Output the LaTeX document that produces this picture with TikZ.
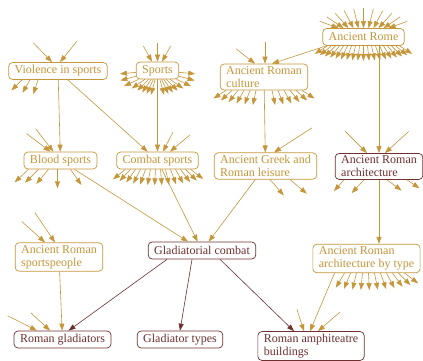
\documentclass[tikz,border=0pt]{standalone}
\usepackage{fontspec}
\setmainfont{Liberation Serif}
\usetikzlibrary{arrows.meta}
\definecolor{Gold}{HTML}{C5963A}
\definecolor{Brown}{HTML}{6E3030}

\begin{document}
\begin{tikzpicture}[x=1pt, y=1pt, font=\fontsize{12}{13}\selectfont, >={Triangle[length=7pt,width=5pt]}]
\tikzset{cat/.style={draw=Gold, text=Gold, rounded corners=4pt, line width=0.7pt, align=left, inner xsep=6pt, inner ysep=2.5pt, minimum height=17pt, fill=white}, brownbox/.style={cat, draw=Brown, text=Brown}, edge/.style={->, draw=Gold, line width=0.6pt}, brownedge/.style={edge, draw=Brown}, stub/.style={edge}}
\useasboundingbox (0,0) rectangle (423,361);
% categories
\node[cat] (viol) at (58,290) {Violence in sports};
\node[cat] (sports) at (157.5,290.5) {Sports};
\node[cat] (culture) at (264,284) {Ancient Roman\\culture};
\node[cat] (rome) at (363.5,324) {Ancient Rome};
\node[cat] (blood) at (60.5,200.5) {Blood sports};
\node[cat] (combat) at (157.5,200.5) {Combat sports};
\node[cat] (leisure) at (265.5,195) {Ancient Greek and\\Roman leisure};
\node[brownbox] (arch) at (379,194.5) {Ancient Roman\\architecture};
\node[cat] (people) at (59,104) {Ancient Roman\\sportspeople};
\node[brownbox] (glad) at (202,110.5) {Gladiatorial combat};
\node[cat] (archtype) at (366.5,102.5) {Ancient Roman\\architecture by type};
\node[brownbox] (rglad) at (62.5,21.5) {Roman gladiators};
\node[brownbox] (gtypes) at (180,21.5) {Gladiator types};
\node[brownbox] (amph) at (311,15) {Roman amphiteatre\\buildings};
% links
\foreach \a/\b in {viol/blood, viol/combat, sports/combat, culture/leisure, blood/glad, combat/glad, leisure/glad, people/rglad} \draw[edge] (\a) -- (\b);
\draw[edge] ([xshift=4]rome.south west) -- ([xshift=8]culture.north);
\draw[edge] (arch.north |- rome.south) -- (arch.north);
\draw[edge] (arch.south) -- (arch.south |- archtype.north);
\draw[edge] ([xshift=-32]archtype.south) -- ([xshift=-1]amph.north);
\draw[brownedge] ([xshift=-35]glad.south) -- ([xshift=6]rglad.north);
\draw[brownedge] ([xshift=-10]glad.south) -- (gtypes.north);
\draw[brownedge] ([xshift=18]glad.south) -- ([xshift=-17]amph.north);
% stubs to other categories
\foreach \dx/\a/\l in {-6/134/27, 2/51/27} \draw[stub] ([xshift=\dx]viol.north) ++(\a:\l) -- ([xshift=\dx]viol.north);
\foreach \dx/\a in {-36/225, -28/240, -20/252} \draw[stub] ([xshift=\dx]viol.south) -- ++(\a:15);
\foreach \dx/\a/\l in {-5.5/119/18, 0/90/19, 4.5/61/18} \draw[stub] ([xshift=\dx]sports.north) ++(\a:\l) -- ([xshift=\dx]sports.north);
\foreach \a in {185,195,205,215,225,235,245,255,285,295,305,315,325,335,345,355} \draw[stub] (sports.\a) -- ++(\a:16);
\foreach \dx [evaluate=\dx as \a using 90-2.8*\dx] in {-25,-20,...,25} \draw[stub] ([xshift=\dx]rome.north) ++(\a:20) -- ([xshift=\dx]rome.north);
\foreach \dx [evaluate=\dx as \a using 270+1.6*\dx] in {-36,-32,...,36} \draw[stub] ([xshift=\dx]rome.south) -- ++(\a:15);
\foreach \dx/\a/\l in {-9/142/24, 1/90/22} \draw[stub] ([xshift=\dx]culture.north) ++(\a:\l) -- ([xshift=\dx]culture.north);
\foreach \dx [evaluate=\dx as \a using 270+1.5*\dx] in {-38,-32,-26,-20,-14,-8,8,14,20,26,32,38} \draw[stub] ([xshift=\dx]culture.south) -- ++(\a:15);
\foreach \dx/\a/\l in {-10/143/30, -7/128/29} \draw[stub] ([xshift=\dx]blood.north) ++(\a:\l) -- ([xshift=\dx]blood.north);
\foreach \dx/\a in {-32/223, -22/225, -12/230, -3/270, 10/305} \draw[stub] ([xshift=\dx]blood.south) -- ++(\a:19);
\foreach \dx/\a/\l in {5.5/63/22, 12.5/40/26} \draw[stub] ([xshift=\dx]combat.north) ++(\a:\l) -- ([xshift=\dx]combat.north);
\foreach \dx [evaluate=\dx as \a using 270+1.6*\dx] in {-32,-27,...,33} \draw[stub] ([xshift=\dx]combat.south) -- ++(\a:16);
\draw[stub] ([xshift=8.5]leisure.north) ++(33:45) -- ([xshift=8.5]leisure.north);
\foreach \dx/\a/\l in {4.5/311/21, 24.5/320/22} \draw[stub] ([xshift=\dx]leisure.south) -- ++(\a:\l);
\foreach \dx/\a/\l in {-12/135/31, 6/42.5/32} \draw[stub] ([xshift=\dx]arch.north) ++(\a:\l) -- ([xshift=\dx]arch.north);
\foreach \dx/\a/\l in {-35/228/15, -15/227/18, 8/324/18, 28/326/15} \draw[stub] ([xshift=\dx]arch.south) -- ++(\a:\l);
\foreach \dx/\a/\l in {-14/138/31, -4/124/36} \draw[stub] ([xshift=\dx]people.north) ++(\a:\l) -- ([xshift=\dx]people.north);
\foreach \dx [evaluate=\dx as \a using 270+1.4*\dx] in {-22,-16,...,38} \draw[stub] ([xshift=\dx]archtype.south) -- ++(\a:17);
\foreach \dx/\a/\l in {-25.5/153/33, -12.5/137/26} \draw[stub] ([xshift=\dx]rglad.north) ++(\a:\l) -- ([xshift=\dx]rglad.north);
\foreach \dx/\a/\l in {-7/108/23, 7/41/29} \draw[stub] ([xshift=\dx]amph.north) ++(\a:\l) -- ([xshift=\dx]amph.north);
\end{tikzpicture}
\end{document}
